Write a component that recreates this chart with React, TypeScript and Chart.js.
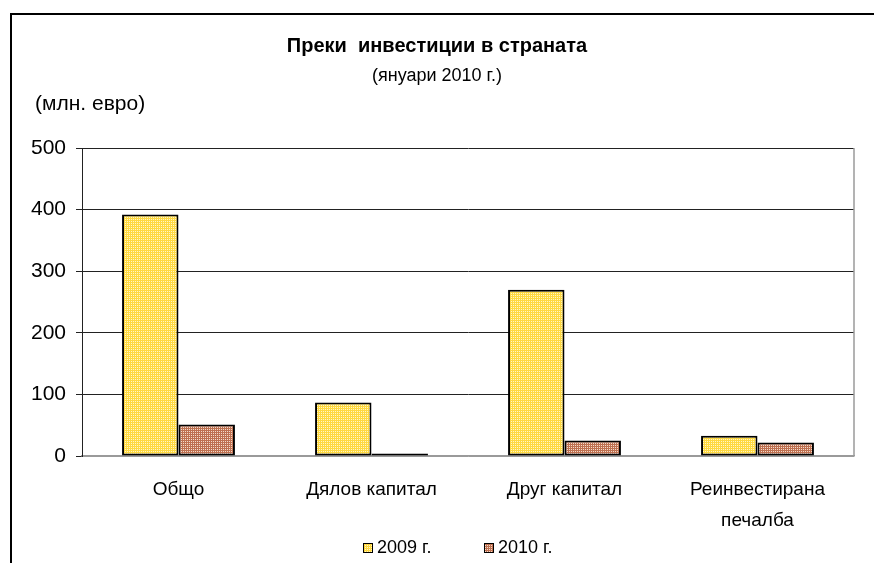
import React, { useEffect, useRef } from "react";
import { Chart, registerables } from "chart.js";

Chart.register(...registerables);

const categories: (string | string[])[] = ["Общо", "Дялов капитал", "Друг капитал", ["Реинвестирана", "печалба"]];
const series2009: number[] = [392, 87, 270, 33];
const series2010: number[] = [51, 4, 25, 22];
const seriesLabels: string[] = ["2009 г.", "2010 г."];
const yTicks: number[] = [0, 100, 200, 300, 400, 500];
const titleText = "Преки  инвестиции в страната";
const subtitleText = "(януари 2010 г.)";
const unitText = "(млн. евро)";

const FONT = "'Liberation Sans', Arial, sans-serif";

function makePattern(base: string, dot: string): CanvasPattern | string {
  const c = document.createElement("canvas");
  c.width = 2;
  c.height = 2;
  const g = c.getContext("2d");
  if (!g) return base;
  g.fillStyle = base;
  g.fillRect(0, 0, 2, 2);
  g.fillStyle = dot;
  g.fillRect(1, 1, 1, 1);
  return g.createPattern(c, "repeat") || base;
}

export default function App() {
  const ref = useRef<HTMLCanvasElement>(null);

  useEffect(() => {
    if (!ref.current) return;
    const yellow = makePattern("#FFD940", "#FFF6C8");
    const brown = makePattern("#BE7050", "#F3DACB");

    const decor = {
      id: "decor",
      afterDraw(chart: any) {
        const ctx = chart.ctx as CanvasRenderingContext2D;
        const area = chart.chartArea;
        ctx.save();
        // outer frame (top & left visible)
        ctx.strokeStyle = "#000";
        ctx.lineWidth = 2;
        ctx.beginPath();
        ctx.moveTo(10, 14);
        ctx.lineTo(874, 14);
        ctx.moveTo(11, 13);
        ctx.lineTo(11, 563);
        ctx.stroke();
        // plot right border
        ctx.strokeStyle = "#9a9a9a";
        ctx.lineWidth = 1.5;
        ctx.beginPath();
        ctx.moveTo(area.right, area.top);
        ctx.lineTo(area.right, area.bottom);
        ctx.stroke();
        // titles
        ctx.fillStyle = "#000";
        ctx.textBaseline = "middle";
        ctx.textAlign = "center";
        ctx.font = `bold 20px ${FONT}`;
        ctx.fillText(titleText, 437, 46);
        ctx.font = `18px ${FONT}`;
        ctx.fillText(subtitleText, 437, 76);
        ctx.textAlign = "left";
        ctx.font = `21px ${FONT}`;
        ctx.fillText(unitText, 35, 104);
        // legend
        const positions = [363, 484];
        chart.data.datasets.forEach((ds: any, i: number) => {
          const x = positions[i];
          const y = 548;
          ctx.fillStyle = ds.backgroundColor;
          ctx.fillRect(x, y - 5, 10, 10);
          ctx.strokeStyle = "#000";
          ctx.lineWidth = 1;
          ctx.strokeRect(x + 0.5, y - 4.5, 9, 9);
          ctx.fillStyle = "#000";
          ctx.font = `18px ${FONT}`;
          ctx.textAlign = "left";
          ctx.fillText(ds.label, x + 14, y);
        });
        ctx.restore();
      },
    };

    const chart = new Chart(ref.current, {
      type: "bar",
      data: {
        labels: categories as any,
        datasets: [
          {
            label: seriesLabels[0],
            data: series2009,
            backgroundColor: yellow as any,
            borderColor: "#000",
            borderWidth: 2,
            borderSkipped: false,
            categoryPercentage: 0.585,
            barPercentage: 1,
          },
          {
            label: seriesLabels[1],
            data: series2010,
            backgroundColor: brown as any,
            borderColor: "#000",
            borderWidth: 2,
            borderSkipped: false,
            categoryPercentage: 0.585,
            barPercentage: 1,
          },
        ],
      },
      options: {
        responsive: false,
        animation: false,
        layout: { padding: { top: 148, left: 0, right: 20, bottom: 0 } },
        plugins: {
          legend: { display: false },
          title: { display: false },
          tooltip: { enabled: false },
        },
        scales: {
          x: {
            grid: { display: false, drawTicks: false },
            border: { display: true, color: "#9a9a9a", width: 1.5 },
            ticks: {
              color: "#000",
              padding: 18.5,
              font: { family: FONT, size: 19, lineHeight: 1.63 },
              maxRotation: 0,
              autoSkip: false,
            },
            afterFit(scale: any) {
              scale.height = 563 - 456;
            },
          },
          y: {
            min: 0,
            max: 500,
            afterBuildTicks(scale: any) {
              scale.ticks = yTicks.map((v) => ({ value: v }));
            },
            grid: {
              color: (c: any) => (c.tick && c.tick.value === 0 ? "#9a9a9a" : "#222"),
              tickColor: "#222",
              tickLength: 6,
              lineWidth: 1,
            },
            border: { display: true, color: "#222", width: 1 },
            ticks: {
              color: "#000",
              padding: 10,
              font: { family: FONT, size: 21 },
            },
            afterFit(scale: any) {
              scale.width = 82;
            },
          },
        },
      },
      plugins: [decor],
    });
    return () => chart.destroy();
  }, []);

  return (
    <div style={{ position: "fixed", left: 0, top: 0, width: 874, height: 563, background: "#fff" }}>
      <canvas ref={ref} width={874} height={563} style={{ width: 874, height: 563, display: "block" }} />
    </div>
  );
}
